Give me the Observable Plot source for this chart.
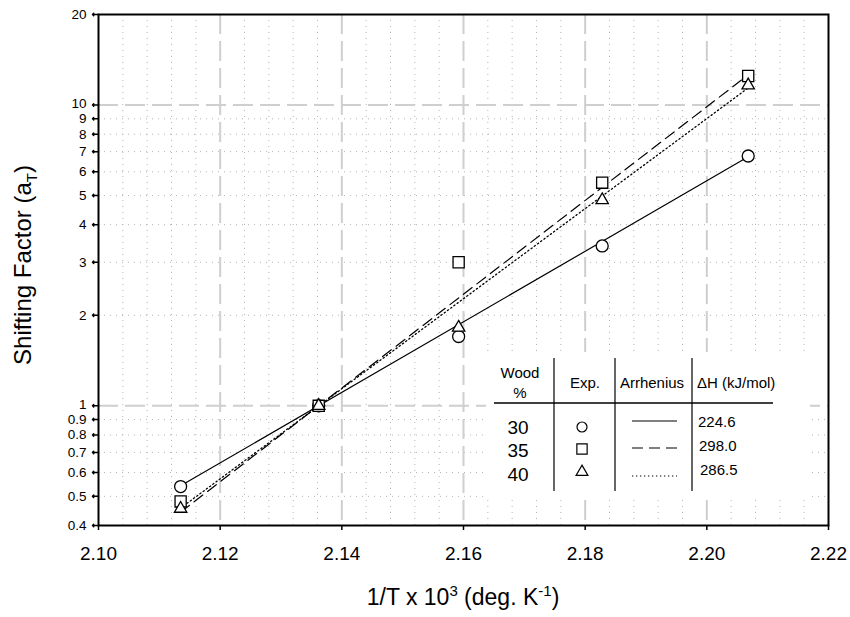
<!DOCTYPE html>
<html><head><meta charset="utf-8">
<script src="https://cdn.jsdelivr.net/npm/d3@7"></script>
<script src="https://cdn.jsdelivr.net/npm/@observablehq/plot@0.6"></script>
<style>body{margin:0;background:#fff;} #chart{width:850px;height:617px;}</style>
</head><body><div id="chart"></div>
<script>
// Data
const invT = [2.1135, 2.1362, 2.1592, 2.1828, 2.2068];
const wood30 = [0.539, 1.0, 1.70, 3.40, 6.77];
const wood35 = [0.481, 1.0, 3.00, 5.52, 12.49];
const wood40 = [0.455, 1.0, 1.82, 4.83, 11.63];
const fitX = [2.1135, 2.2068];
const fit30 = [0.542, 6.73];
const fit35 = [0.443, 12.6];
const fit40 = [0.457, 11.4];
const woodPct = ["30", "35", "40"];
const dH = ["224.6", "298.0", "286.5"];
const xTicks = [2.10, 2.12, 2.14, 2.16, 2.18, 2.20, 2.22];
const yTicks = [0.4, 0.5, 0.6, 0.7, 0.8, 0.9, 1, 2, 3, 4, 5, 6, 7, 8, 9, 10, 20];
const xMajorGrid = [2.12, 2.14, 2.16, 2.18, 2.20];
const xMinorGrid = [2.104, 2.108, 2.112, 2.116, 2.124, 2.128, 2.132, 2.136, 2.144, 2.148, 2.152, 2.156,
  2.164, 2.168, 2.172, 2.176, 2.184, 2.188, 2.192, 2.196, 2.204, 2.208, 2.212, 2.216];
const yMajorGrid = [1, 10];
const yMinorGrid = [0.5, 0.6, 0.7, 0.8, 0.9, 2, 3, 4, 5, 6, 7, 8, 9];

const pts = (ys) => invT.map((x, i) => ({x, y: ys[i]}));
const fit = (ys) => fitX.map((x, i) => ({x, y: ys[i]}));

const font = "'Liberation Sans', Arial, sans-serif";
const minorStyle = {stroke: "#b4b4b4", strokeWidth: 1, strokeDasharray: "1,5"};
const majorStyle = {stroke: "#cfcfcf", strokeWidth: 2, strokeDasharray: "20,7"};
const dotStyle = {stroke: "black", fill: "white", strokeWidth: 1.3};
const yLabelStyle = {y: d => d, text: d => String(d), frameAnchor: "left", dx: -12, textAnchor: "end", fontSize: 13.5, fill: "black"};
const isDecade = d => d === 1 || d === 10;

const chart = Plot.plot({
  width: 850, height: 617,
  marginLeft: 98, marginRight: 22, marginTop: 14, marginBottom: 92,
  style: {fontFamily: font, background: "white", color: "black"},
  x: {domain: [2.10, 2.22], label: null, axis: null},
  y: {type: "log", domain: [0.4, 20], label: null, axis: null},
  marks: [
    Plot.ruleX(xMinorGrid, minorStyle),
    Plot.ruleY(yMinorGrid, minorStyle),
    Plot.ruleX(xMajorGrid, majorStyle),
    Plot.ruleY(yMajorGrid, majorStyle),
    Plot.line(fit(fit30), {x: "x", y: "y", stroke: "black", strokeWidth: 1.2}),
    Plot.line(fit(fit35), {x: "x", y: "y", stroke: "black", strokeWidth: 1.2, strokeDasharray: "11,6"}),
    Plot.line(fit(fit40), {x: "x", y: "y", stroke: "black", strokeWidth: 1.3, strokeDasharray: "1.3,2.7"}),
    Plot.dot(pts(wood30), {x: "x", y: "y", symbol: "circle", r: 6, ...dotStyle}),
    Plot.dot(pts(wood35), {x: "x", y: "y", symbol: "square", r: 6.3, ...dotStyle}),
    Plot.dot(pts(wood40), {x: "x", y: "y", symbol: "triangle", r: 4.6, ...dotStyle}),
    Plot.frame({stroke: "black", strokeWidth: 2}),
    Plot.axisX(xTicks, {tickFormat: d3.format(".2f"), tickSize: 5, tickPadding: 16, fontSize: 19, strokeWidth: 1.5, label: null}),
    // y ticks and labels
    Plot.vector(yTicks, {y: d => d, frameAnchor: "left", rotate: -90, length: 6, anchor: "start", stroke: "black", strokeWidth: 1.5}),
    Plot.text(yTicks.filter(d => !isDecade(d)), yLabelStyle),
    Plot.text(yTicks.filter(isDecade), {...yLabelStyle, dy: -1.5})
  ]
});
document.getElementById("chart").appendChild(chart);

const svg = d3.select(chart);
// Axis titles
const xt = svg.append("text").attr("x", 463).attr("y", 605).attr("text-anchor", "middle")
  .attr("font-family", font).attr("font-size", 23).attr("fill", "black");
xt.append("tspan").text("1/T x 10");
xt.append("tspan").attr("dy", -9).attr("font-size", 15).text("3");
xt.append("tspan").attr("dy", 9).attr("font-size", 23).text(" (deg. K");
xt.append("tspan").attr("dy", -9).attr("font-size", 15).text("-1");
xt.append("tspan").attr("dy", 9).attr("font-size", 23).text(")");

const yt = svg.append("text").attr("transform", "translate(31,265) rotate(-90)").attr("text-anchor", "middle")
  .attr("font-family", font).attr("font-size", 24).attr("fill", "black");
yt.append("tspan").text("Shifting Factor (a");
yt.append("tspan").attr("dy", 6).attr("font-size", 15).text("T");
yt.append("tspan").attr("dy", -6).attr("font-size", 24).text(")");

// Legend table
const lg = svg.append("g").attr("font-family", font).attr("fill", "black").attr("text-anchor", "start");
lg.append("rect").attr("x", 486).attr("y", 352).attr("width", 324).attr("height", 148).attr("fill", "white");
const hdr = (t, x, y, anchor = "middle") => lg.append("text").attr("x", x).attr("y", y).attr("dy", "0.35em")
  .attr("text-anchor", anchor).attr("font-size", 15).text(t);
hdr("Wood", 520, 373); hdr("%", 520, 393); hdr("Exp.", 585, 383); hdr("Arrhenius", 652, 383);
hdr("\u0394H (kJ/mol)", 697, 383, "start");
lg.append("line").attr("x1", 494).attr("x2", 773).attr("y1", 403).attr("y2", 403).attr("stroke", "black").attr("stroke-width", 1.5);
[554, 615, 692].forEach(x => lg.append("line").attr("x1", x).attr("x2", x).attr("y1", 358).attr("y2", 491)
  .attr("stroke", "black").attr("stroke-width", 1.2));
const rowY = [427, 450, 474];
const valY = [422, 446, 470];
const lineY = [421, 448, 476];
woodPct.forEach((w, i) => lg.append("text").attr("x", 518).attr("y", rowY[i]).attr("dy", "0.35em")
  .attr("text-anchor", "middle").attr("font-size", 19).text(w));
dH.forEach((v, i) => lg.append("text").attr("x", 698 + i).attr("y", valY[i]).attr("dy", "0.35em")
  .attr("text-anchor", "start").attr("font-size", 15).text(v));
const syms = [[d3.symbolCircle, 5], [d3.symbolSquare, 5.8], [d3.symbolTriangle, 4.4]];
const symY = [427, 449, 472];
syms.forEach(([s, r], i) => lg.append("path").attr("d", d3.symbol(s, Math.PI * r * r)())
  .attr("transform", `translate(582,${symY[i]})`).attr("fill", "white").attr("stroke", "black").attr("stroke-width", 1.2));
const dashes = [null, "11,6", "1.3,2.7"];
dashes.forEach((d, i) => lg.append("line").attr("x1", 632).attr("x2", 677).attr("y1", lineY[i]).attr("y2", lineY[i])
  .attr("stroke", "black").attr("stroke-width", 1.2).attr("stroke-dasharray", d));
</script>
</body></html>
